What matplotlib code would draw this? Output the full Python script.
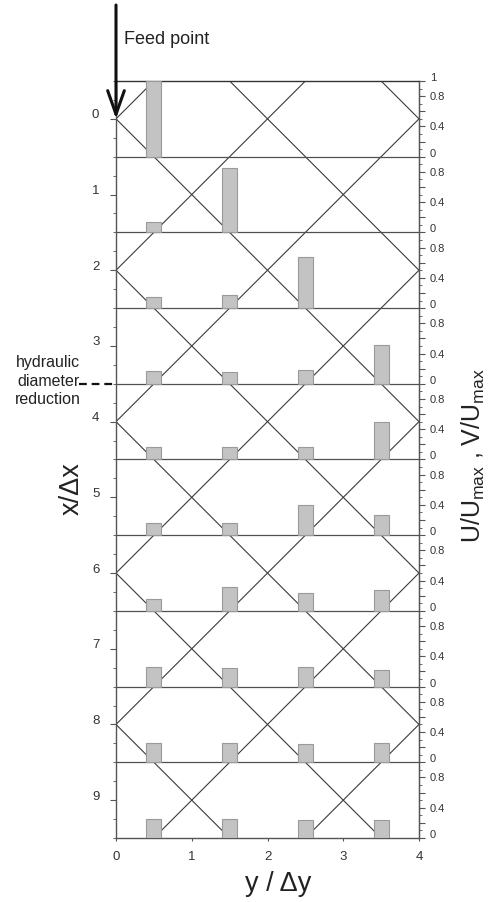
import numpy as np
import matplotlib
matplotlib.use("Agg")
import matplotlib.pyplot as plt
from matplotlib.ticker import FixedLocator, FixedFormatter
from matplotlib.transforms import ScaledTranslation, blended_transform_factory

plt.rcParams['font.family'] = ['Liberation Sans', 'DejaVu Sans']
plt.rcParams['mathtext.fontset'] = 'custom'
plt.rcParams['mathtext.rm'] = 'Liberation Sans'
plt.rcParams['mathtext.it'] = 'Liberation Sans'

# data: rows x/dx = 0..9, bar positions y/dy, bar heights U/Umax per row
rows = np.arange(10)
positions = [0.5, 1.5, 2.5, 3.5]
u_col1 = [1.00, 0.14, 0.145, 0.167, 0.16, 0.163, 0.16, 0.26, 0.26, 0.255]
u_col2 = [0.00, 0.85, 0.176, 0.16, 0.17, 0.163, 0.32, 0.25, 0.25, 0.255]
u_col3 = [0.00, 0.00, 0.68, 0.18, 0.167, 0.40, 0.24, 0.26, 0.24, 0.24]
u_col4 = [0.00, 0.00, 0.00, 0.51, 0.50, 0.27, 0.27, 0.22, 0.25, 0.24]
heights = [u_col1, u_col2, u_col3, u_col4]

# diagonal grid: lines y - x = c and y + x = c (even c)
diag_minus = [-10, -8, -6, -4, -2, 0, 2, 4]
diag_plus = [0, 2, 4, 6, 8, 10, 12, 14]

W, H = 490, 902
fig = plt.figure(figsize=(W / 100, H / 100), dpi=100)
ax = fig.add_axes([116 / W, 1 - 838 / H, (419 - 116) / W, (838 - 81) / H])

ax.set_xlim(0, 4)
ax.set_ylim(9.5, -0.5)

line_c = '#3a3a3a'
yy = np.array([0, 4])
for c in diag_minus:
    ax.plot(yy, yy - c, color=line_c, lw=0.8, zorder=1)
for c in diag_plus:
    ax.plot(yy, c - yy, color=line_c, lw=0.8, zorder=1)

# row separators
for r in rows[:-1]:
    ax.axhline(r + 0.5, color='#505050', lw=0.9, zorder=2)

# bars
for pos, h in zip(positions, heights):
    for r, v in zip(rows, h):
        if v > 0:
            ax.bar(pos, -v, bottom=r + 0.5, width=0.2, color='#c3c3c3',
                   edgecolor='#9a9a9a', linewidth=0.8, zorder=3)

for s in ax.spines.values():
    s.set_color('#555555')
    s.set_linewidth(1.0)
ax.spines['top'].set_color('#333333')

ax.set_yticks(rows)
ax.set_yticklabels([str(r) for r in rows])
ax.set_yticks(np.arange(-0.5, 9.51, 0.25), minor=True)
ax.tick_params(axis='y', which='major', direction='out', length=4, width=0.8,
               color='#555555', pad=8, labelsize=9.5, labelcolor='#333333')
ax.tick_params(axis='y', which='minor', direction='out', length=2, width=0.7,
               color='#666666')
ax.set_xticks([0, 1, 2, 3, 4])
ax.set_xticklabels(['0', '1', '2', '3', '4'])
ax.tick_params(axis='x', which='major', direction='out', length=2.5, width=0.8,
               color='#555555', pad=7, labelsize=9.5, labelcolor='#333333')

# right axis: U/Umax scale repeated for every row
ax2 = ax.twinx()
ax2.set_ylim(ax.get_ylim())
ax2.spines['right'].set_color('#555555')
for k in ['left', 'top', 'bottom']:
    ax2.spines[k].set_visible(False)
major_vals = [0.0, 0.2, 0.4, 0.6, 0.8]
label_vals = {0.0: '0', 0.4: '0.4', 0.8: '0.8'}
locs, labs = [], []
for r in rows:
    base = r + 0.5
    for v in major_vals:
        locs.append(base - v)
        labs.append(label_vals.get(v, ''))
locs.append(-0.5)
labs.append('1')
ax2.yaxis.set_major_locator(FixedLocator(locs))
ax2.yaxis.set_major_formatter(FixedFormatter(labs))
minor_locs = [r + 0.5 - v for r in rows for v in np.arange(0.1, 1.0, 0.2)]
ax2.yaxis.set_minor_locator(FixedLocator(minor_locs))
ax2.tick_params(axis='y', which='major', direction='out', length=4, width=0.8,
                color='#555555', pad=4, labelsize=8, labelcolor='#333333')
ax2.tick_params(axis='y', which='minor', direction='out', length=2.2, width=0.7,
                color='#666666')

# shift some tick labels like the original
fig.canvas.draw()
up5 = ScaledTranslation(0, 5 / 100, fig.dpi_scale_trans)
for t in ax.yaxis.get_major_ticks():
    t.label1.set_transform(t.label1.get_transform() + up5)
up4 = ScaledTranslation(0, 4 / 100, fig.dpi_scale_trans)
for t, lab in zip(ax2.yaxis.get_major_ticks(), labs):
    if lab in ('0', '1'):
        t.label2.set_transform(t.label2.get_transform() + up4)

# axis titles
fig.text(72 / W, 1 - 489 / H, 'x/Δx', rotation=90, ha='center', va='center',
         fontsize=19.5, color='#222222')
fig.text(278 / W, 1 - 891 / H, 'y / Δy', ha='center', va='baseline',
         fontsize=19.5, color='#222222')
fig.text(473 / W, 1 - 456 / H, r'U/U$_{\mathrm{max}}$ , V/U$_{\mathrm{max}}$',
         rotation=90, ha='center', va='center', fontsize=18, color='#222222')

# feed point arrow
ax.annotate('', xy=(0, 0), xycoords='data',
            xytext=(0, 1 - 5 / H), textcoords=('data', 'figure fraction'),
            arrowprops=dict(arrowstyle='->, head_length=1.7, head_width=0.6',
                            mutation_scale=10, lw=2.2, color='#111111',
                            shrinkA=0, shrinkB=0),
            annotation_clip=False)
fig.text(124 / W, 1 - 39 / H, 'Feed point', ha='left', va='center',
         fontsize=13, color='#222222')

# hydraulic diameter reduction marker
tr = blended_transform_factory(ax.transAxes, ax.transData)
ax.plot([-0.122, 0], [3.5, 3.5], transform=tr, color='#111111', lw=1.6,
        ls=(0, (3.5, 2.2)), clip_on=False)
fig.text(48 / W, 1 - 381 / H, 'hydraulic\ndiameter\nreduction', ha='center',
         va='center', multialignment='center', linespacing=1.25,
         fontsize=11.5, color='#222222')

fig.savefig('out.png', dpi=100)
